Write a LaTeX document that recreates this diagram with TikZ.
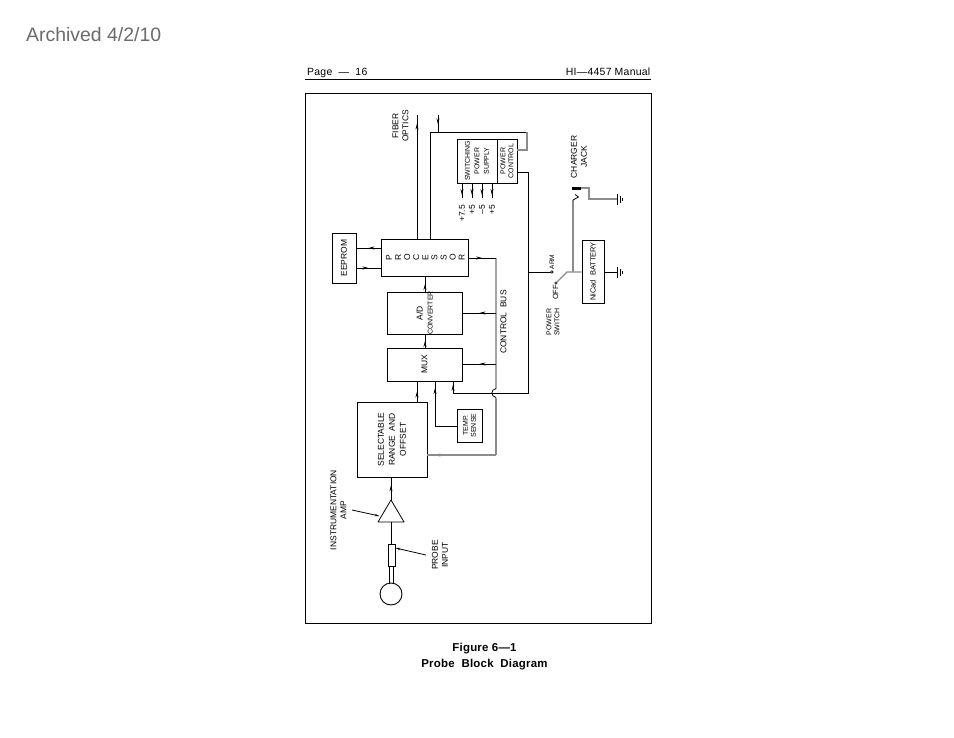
\documentclass[tikz,border=0pt]{standalone}
\usepackage{fontspec}
\setmainfont{Liberation Sans}
\usetikzlibrary{arrows.meta,decorations.markings}
\definecolor{archgray}{gray}{0.42}
\definecolor{scan}{gray}{0.55}
\tikzset{
  wire/.style={line width=0.8bp,black},
  graywire/.style={line width=1.1bp,scan},
  midtip/.style={postaction={decorate},decoration={markings,mark=at position #1 with {\arrow{Stealth[length=6bp,width=3bp]}}}},
  midtip/.default=0.5,
  box/.style={draw,line width=0.9bp,inner sep=0pt,align=center},
  rot/.style={rotate=90,inner sep=0pt,align=center,font=\fontsize{#1}{#1}\selectfont},
  rot/.default=8,
  lead/.style={wire,-{Stealth[length=5bp,width=2.5bp]}},
  pagetext/.style={inner sep=0pt,font=\fontsize{10.5}{11}\selectfont\addfontfeature{LetterSpace=2.4}},
  captext/.style={inner sep=0pt,font=\bfseries\fontsize{11.5}{13}\selectfont\addfontfeature{LetterSpace=2}},
}
\newcommand{\groundsym}[1]{%
  \draw[wire] ([yshift=-5.5bp]#1) -- ([yshift=5.5bp]#1);
  \draw[line width=0.6bp] ([xshift=3bp,yshift=-3.5bp]#1) -- ([xshift=3bp,yshift=3.5bp]#1);
  \draw[line width=0.6bp] ([xshift=5bp,yshift=-1.5bp]#1) -- ([xshift=5bp,yshift=1.5bp]#1);
}
\begin{document}
\begin{tikzpicture}[x=1bp,y=-1bp]
\useasboundingbox (0,0) rectangle (954,738);
\fill[white] (0,0) rectangle (954,738);
% page furniture
\node[anchor=west,inner sep=0pt,text=archgray,font=\fontsize{19.5}{22}\selectfont] (arch) at (26,34.5) {Archived 4/2/10};
\node[pagetext,anchor=base west] (pageno) at (307,75.5) {Page\ \ —\ \ 16};
\node[pagetext,anchor=base east] (manual) at (650.5,75.5) {HI—4457 Manual};
\coordinate (ruleL) at (305,79);
\coordinate (ruleR) at (651,79);
\draw[line width=0.8bp] (ruleL) -- (ruleR);
\node[draw,line width=1bp,minimum width=346bp,minimum height=529bp,inner sep=0pt] (frame) at (478,358.5) {};
\node[captext] (fig) at (484.5,649) {Figure 6—1};
\node[captext] (cap) at (484.5,665) {Probe\ \ Block\ \ Diagram};

% boxes
\node[box,minimum width=87bp,minimum height=37bp] (proc) at (424.5,257.5) {};
\foreach \ltr [count=\i] in {P,R,O,C,E,S,S,O,R}{
  \node[rot=8.5] (pl\i) at ({389+(\i-1)*9.1},257.5) {\ltr};
}
\node[box,minimum width=24bp,minimum height=50bp] (eeprom) at (344,258) {};
\node[rot=8.5] at (344,258) {EEPROM};
\node[box,minimum width=75bp,minimum height=42bp] (adc) at (424.5,313) {};
\node[rot=8.5] at (424.5,313) {A/D\\[1.5bp]\fontsize{7}{7}\selectfont CONVERTER};
\node[box,minimum width=75bp,minimum height=33bp] (mux) at (424.5,364.5) {};
\node[rot=8.5] at (424.5,364.5) {MUX};
\node[box,minimum width=70bp,minimum height=75bp] (sel) at (392,439.5) {};
\node[rot=8.5] at (392,439.5) {SELECTABLE\\[2.5bp]RANGE\ \ AND\\[2.5bp]OFFSET};
\node[box,minimum width=25bp,minimum height=33bp] (temp) at (469.5,425.5) {};
\node[rot=7] at (469.5,425.5) {TEMP.\\[1bp]SENSE};
\node[box,minimum width=40bp,minimum height=44bp] (sw) at (477,161) {};
\node[rot=7] at (477,161) {SWITCHING\\[2.5bp]POWER\\[2.5bp]SUPPLY};
\node[box,minimum width=20bp,minimum height=44bp] (pc) at (507,161) {};
\node[rot=7] at (507,161) {POWER\\[1bp]CONTROL};
\node[box,minimum width=22bp,minimum height=63bp] (bat) at (593,271.5) {};
\node[rot=7.5] at (593,271.5) {NiCad\ \ BATTERY};

% text labels
\node[rot=8.5] (fiber) at (400.5,126) {FIBER\\[1.5bp]OPTICS};
\node[rot=8.5] (cbus) at (503.5,322) {CONTROL\ \ BUS};
\node[rot=8.5,anchor=east] (v1) at (462,205) {+7.5};
\node[rot=8.5,anchor=east] (v2) at (472,205) {+5};
\node[rot=8.5,anchor=east] (v3) at (482,205) {--5};
\node[rot=8.5,anchor=east] (v4) at (492,205) {+5};
\node[rot=8.5] (charger) at (579,157) {CHARGER\\[1.5bp]JACK};
\node[rot=6.5] (armt) at (552,262) {ARM};
\node[rot=7.5] (offt) at (555.5,292.5) {OFF};
\node[rot=7] (pwrsw) at (553,322) {POWER\\[1bp]SWITCH};
\node[rot=8.5] (inst) at (338.5,510) {INSTRUMENTATION\\[1.5bp]AMP};
\node[rot=8.5] (pinp) at (440,555) {PROBE\\[1.5bp]INPUT};

% processor / memory
\draw[wire,midtip] (proc.west |- 0,248) -- (eeprom.east |- 0,248);
\draw[wire,midtip] (eeprom.east |- 0,268) -- (proc.west |- 0,268);
\draw[wire,midtip] (adc.north -| 425,0) -- (proc.south -| 425,0);
\draw[wire,midtip] (mux.north -| 425,0) -- (adc.south -| 425,0);
\draw[wire,midtip] (sel.north -| 417,0) -- (mux.south -| 417,0);

% fibre optics and power
\coordinate (fibertop) at (417,115);
\coordinate (intop) at (438,115);
\coordinate (injoin) at (438,132);
\coordinate (cornerA) at (430,132);
\coordinate (cornerB) at (527,132);
\coordinate (cornerC) at (527,150);
\draw[wire,midtip=0.93] (proc.north -| fibertop) -- (fibertop);
\draw[wire,midtip=0.55] (intop) -- (injoin);
\draw[wire] (proc.north -| cornerA) -- (cornerA) -- (cornerB);
\draw[graywire] (cornerB) -- (cornerC) -- (pc.east |- cornerC);

% supply outputs
\foreach \xx/\nm in {462/a,472/b,482/c,492/d}{
  \coordinate (o\nm) at (\xx,198);
  \draw[wire,midtip=0.8] (sw.south -| o\nm) -- (o\nm);
}

% control bus
\coordinate (busT) at (496,258);
\coordinate (busB) at (496,455);
\coordinate (humpT) at (496,388.5);
\coordinate (humpB) at (496,397.5);
\draw[wire,midtip=0.5] (proc.east |- busT) -- (busT);
\draw[wire] (busT) -- (humpT) .. controls (490.5,389.5) and (490.5,396.5) .. (humpB);
\draw[graywire] (humpB) -- (busB);
\draw[graywire,midtip=0.9] (busB) -- (sel.east |- busB);
\draw[wire,midtip] (adc.east |- 0,313) ++(34,0) -- (adc.east |- 0,313);
\draw[wire,midtip] (mux.east |- 0,364) ++(34,0) -- (mux.east |- 0,364);

% power feed
\coordinate (pwrA) at (528,172);
\coordinate (pwrB) at (528,393.5);
\coordinate (muxin) at (453,393.5);
\draw[wire] (pc.east |- pwrA) -- (pwrA) -- (pwrB) -- (muxin);
\draw[wire,midtip=0.72] (muxin) -- (mux.south -| muxin);
\coordinate (tempc) at (435,426);
\draw[wire,midtip=0.9] (temp.west |- tempc) -- (tempc) -- (mux.south -| tempc);

% switch
\coordinate (arm) at (550.5,272);
\coordinate (off) at (556,283);
\coordinate (pivot) at (567,272);
\coordinate (tee) at (573,272);
\draw[wire] (pwrA |- arm) -- (arm);
\draw[line width=0.6bp] (arm) ++(1.3,0) circle[radius=1.3bp];
\draw[line width=0.6bp] (off) circle[radius=1.3bp];
\draw[graywire] (off) ++(1,-1) -- (pivot) -- (bat.west |- pivot);
% charger jack
\coordinate (vtop) at (573,200);
\coordinate (jackA) at (572,188);
\coordinate (jackB) at (581,188);
\coordinate (jackC) at (589,188);
\coordinate (jackD) at (589,199);
\coordinate (gndA) at (617,199);
\coordinate (gndB) at (617,272);
\draw[graywire] (tee) -- (vtop);
\draw[line width=0.8bp] (vtop) -- (578.5,197) -- (575,194.5);
\draw[line width=3bp,black] (jackA) -- (jackB);
\draw[graywire] (jackB) -- (jackC) -- (jackD) -- (gndA);
\draw[wire] (bat.east |- gndB) -- (gndB);
\groundsym{gndA}
\groundsym{gndB}

% input chain
\coordinate (apex) at (391,500);
\coordinate (baseL) at (378,522);
\coordinate (baseR) at (404,522);
\coordinate (basem) at (391,522);
\draw[wire,line join=round] (apex) -- (baseL) -- (baseR) -- cycle;
\draw[wire,midtip=0.65] (apex) -- (sel.south -| apex);
\node[draw,line width=0.9bp,minimum width=7bp,minimum height=22bp,inner sep=0pt] (res) at (391.5,555) {};
\draw[wire] (basem) -- (res.north -| basem);
\node[draw,line width=0.9bp,circle,minimum size=22bp,inner sep=0pt] (probe) at (391,594) {};
\draw[wire] (res.south -| 389.3,0) -- (389.3,584);
\draw[wire] (res.south -| 393,0) -- (393,584);
\coordinate (instfrom) at (352,510);
\coordinate (instto) at (379.5,516);
\draw[lead] (instfrom) -- (instto);
\coordinate (probefrom) at (426,555);
\draw[lead] (probefrom) -- (res.east |- 0,548);
\end{tikzpicture}
\end{document}
